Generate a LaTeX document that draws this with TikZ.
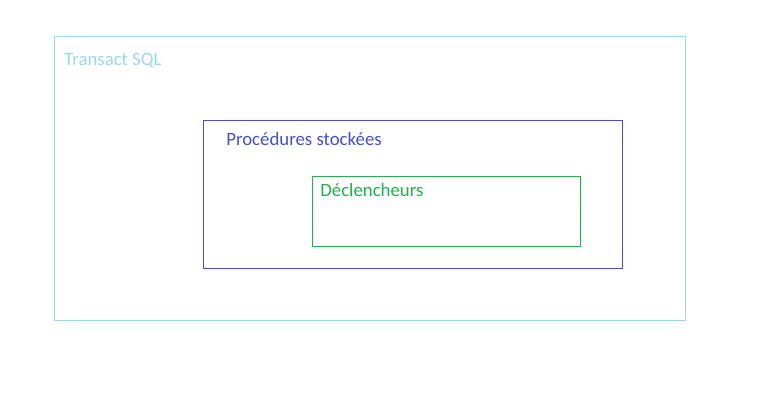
\documentclass[tikz,border=0pt]{standalone}
\usepackage{fontspec}
\setmainfont{Carlito}
\usetikzlibrary{positioning}
\usetikzlibrary{math}
\definecolor{sqlcol}{HTML}{99D9EA}
\definecolor{proccol}{HTML}{4450D0}
\definecolor{trigcol}{HTML}{22B14C}
\tikzstyle{frame} = [draw, line width=0.5pt]
\tikzstyle{caption} = [anchor=base west, inner sep=0pt, font=\fontsize{10.7}{13}\selectfont]

\begin{document}
\begin{tikzpicture}[x=0.02cm, y=-0.02cm]

  \tikzmath{\w = 780; \h = 406;}
  \useasboundingbox (0,0) rectangle (\w,\h);

  % Transact SQL
  \draw[frame, sqlcol] (54,36) rectangle (685,320);
  \node[caption, text=sqlcol] (sql) at (64,65.5) {Transact SQL};

  % Procedures
  \draw[frame, proccol] (203,120) rectangle (622,268);
  \node[caption, text=proccol] (proc) at (226,145.5) {Procédures stockées};

  % Triggers
  \draw[frame, trigcol] (312,176) rectangle (580,246);
  \node[caption, text=trigcol] (trig) at (320,196.5) {Déclencheurs};

\end{tikzpicture}
\end{document}
